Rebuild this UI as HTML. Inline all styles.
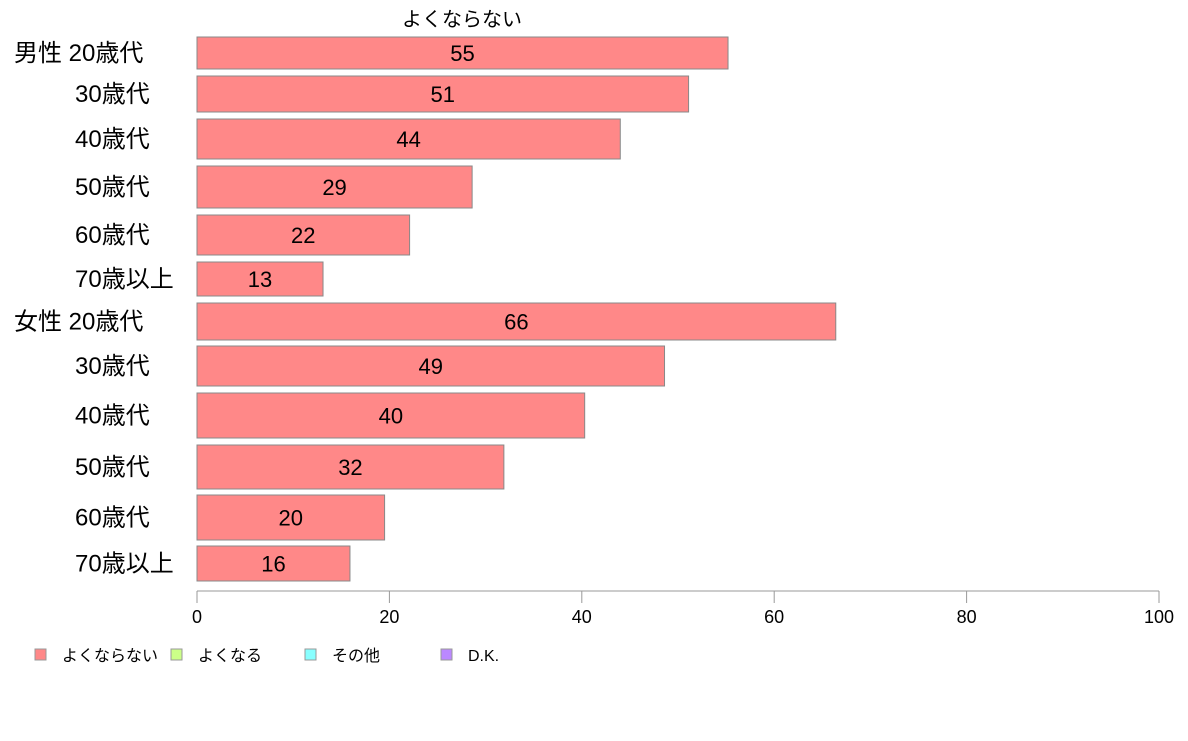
<!DOCTYPE html>
<html><head><meta charset="utf-8"><style>
body{margin:0;background:#fff;}
svg text{font-family:"Liberation Sans","Noto Sans CJK JP",sans-serif;}
</style></head><body>
<svg id="c" width="1188" height="736" xmlns="http://www.w3.org/2000/svg">
<text x="462" y="26" font-size="20" text-anchor="middle">よくならない</text>
<g id="bars"></g><g id="axis"></g><g id="legend"></g>
</svg>
<script>
const categories=["男性 20歳代","30歳代","40歳代","50歳代","60歳代","70歳以上","女性 20歳代","30歳代","40歳代","50歳代","60歳代","70歳以上"];
const values=[55.2,51.1,44.0,28.6,22.1,13.1,66.4,48.6,40.3,31.9,19.5,15.9];
const tickLabels=[0,20,40,60,80,100];
const legendLabels=["よくならない","よくなる","その他","D.K."];
const legendColors=["#ff8888","#ccff88","#88ffff","#bb88ff"];
// row layout (pixel bands)
const rowTop=[37,76,119,166,215,262,303,346,393,445,495,546];
const rowBot=[69,112,159,208,255,296,340,386,438,489,540,581];
const NS="http://www.w3.org/2000/svg";
const x0=197,x1=1159;
const xs=v=>x0+(x1-x0)*v/100;
function mk(t,a,p){const e=document.createElementNS(NS,t);for(const k in a)e.setAttribute(k,a[k]);p.appendChild(e);return e;}
const bars=document.getElementById('bars');
categories.forEach((c,i)=>{
  const r=mk('rect',{x:x0,y:rowTop[i],width:xs(values[i])-x0,height:rowBot[i]-rowTop[i],fill:'#ff8888',stroke:'#888','stroke-width':1},bars);
  
  
  const cy=(rowTop[i]+rowBot[i])/2+8;
  const t=mk('text',{x:(x0+xs(values[i]))/2,y:cy,'font-size':22,'text-anchor':'middle'},bars);
  t.textContent=Math.round(values[i]);
  
  
  const l=mk('text',{x:c.startsWith('男')||c.startsWith('女')?14:75,y:cy,'font-size':24},bars);
  l.textContent=c;
  
  
});
const ax=document.getElementById('axis');
const al=mk('line',{x1:x0,x2:x1,y1:591,y2:591,stroke:'#999','stroke-width':1},ax);


tickLabels.forEach(v=>{
  const tk=mk('line',{x1:xs(v),x2:xs(v),y1:591,y2:603,stroke:'#999'},ax);
  
  
  const t=mk('text',{x:xs(v),y:623,'font-size':18,'text-anchor':'middle'},ax);
  t.textContent=v;
  
  
});
const lg=document.getElementById('legend');
const lx=[35,171,305,441];
legendLabels.forEach((s,i)=>{
  const r=mk('rect',{x:lx[i],y:649,width:11,height:11,fill:legendColors[i],stroke:'#999'},lg);
  
  
  const t=mk('text',{x:lx[i]+27,y:661,'font-size':16},lg);
  t.textContent=s;
  
  
});
</script>
</body></html>
